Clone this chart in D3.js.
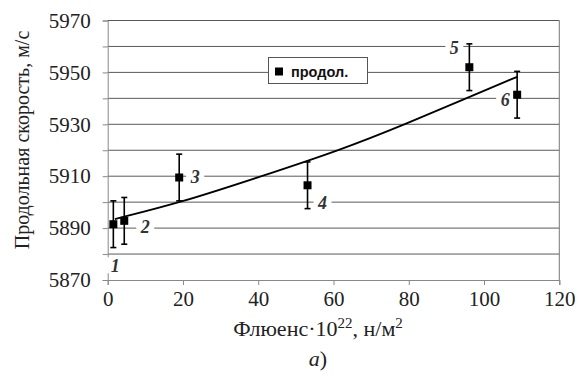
<!DOCTYPE html>
<html>
<head>
<meta charset="utf-8">
<script src="https://cdn.jsdelivr.net/npm/d3@7"></script>
<style>
  body { margin: 0; background: #fff; }
  svg { display: block; }
</style>
</head>
<body>
<svg id="chart"></svg>
<script>
// data
const fluence = [1.5, 4.4, 19, 53.1, 96.1, 108.8];
const speed = [5891.5, 5892.8, 5909.5, 5906.5, 5952, 5941.4];
const errors = [9, 9, 9, 9, 9, 9];
const pointLabels = ['1', '2', '3', '4', '5', '6'];
const trendX = [1.9, 20, 40, 61.7, 79.5, 96, 108.8];
const trendY = [5893.5, 5900.1, 5909.6, 5920, 5930.3, 5940.5, 5948.3];
const xTicks = [0, 20, 40, 60, 80, 100, 120];
const yTicks = [5870, 5890, 5910, 5930, 5950, 5970];
const legendName = 'продол.';

// pixel offsets of the number labels from their points
const labelOffsets = [[2, 41], [21, 6], [16, -1], [15, 17], [-15, -20], [-12, 5]];

const width = 579;
const height = 388;
const m = { left: 107.7, right: 559.3, top: 20.5, bottom: 280 };

const svg = d3.select('#chart')
  .attr('width', width)
  .attr('height', height);

const x = d3.scaleLinear().domain([0, 120]).range([m.left, m.right]);
const y = d3.scaleLinear().domain([5870, 5970]).range([m.bottom, m.top]);

const serif = '"Liberation Serif", "Times New Roman", serif';

// horizontal grid every 10
svg.append('g')
  .selectAll('line')
  .data(d3.range(5880, 5971, 10))
  .enter().append('line')
  .attr('x1', m.left).attr('x2', m.right)
  .attr('y1', d => y(d)).attr('y2', d => y(d))
  .attr('stroke', '#5a5a5a').attr('stroke-width', 1);

// right border
svg.append('line')
  .attr('x1', m.right).attr('x2', m.right)
  .attr('y1', m.top).attr('y2', m.bottom)
  .attr('stroke', '#777');

// axes
const yAxis = svg.append('g')
  .attr('transform', `translate(${m.left},0)`)
  .call(d3.axisLeft(y).tickValues(d3.range(5870, 5971, 10)).tickSize(5).tickFormat(d => yTicks.includes(d) ? d : ''));
yAxis.select('.domain').attr('stroke', '#888');
yAxis.selectAll('.tick line').attr('stroke', '#888');
yAxis.selectAll('.tick text')
  .attr('x', -17)
  .attr('font-family', serif).attr('font-size', 21).attr('fill', '#222');

const xAxis = svg.append('g')
  .attr('transform', `translate(0,${m.bottom})`)
  .call(d3.axisBottom(x).tickValues(xTicks).tickSize(5));
xAxis.select('.domain').attr('stroke', '#888');
xAxis.selectAll('.tick line').attr('stroke', '#888');
xAxis.selectAll('.tick text')
  .attr('y', 26).attr('dy', null)
  .attr('font-family', serif).attr('font-size', 21).attr('fill', '#222');

// white patches behind the number labels
const labelPos = fluence.map((f, i) => [x(f) + labelOffsets[i][0], y(speed[i]) + labelOffsets[i][1]]);
svg.append('g')
  .selectAll('rect')
  .data(labelPos)
  .enter().append('rect')
  .attr('x', d => d[0] - 9).attr('y', d => d[1] - 8)
  .attr('width', 18).attr('height', 16)
  .attr('fill', '#fff');

// trend line
svg.append('path')
  .datum(trendX.map((t, i) => [t, trendY[i]]))
  .attr('fill', 'none')
  .attr('stroke', '#000').attr('stroke-width', 1.8)
  .attr('d', d3.line().x(d => x(d[0])).y(d => y(d[1])).curve(d3.curveBasis));

// error bars
const bars = svg.append('g').attr('stroke', '#000').attr('stroke-width', 1.6);
fluence.forEach((f, i) => {
  const cx = x(f);
  const hi = y(speed[i] + errors[i]);
  const lo = y(speed[i] - errors[i]);
  bars.append('line').attr('x1', cx).attr('x2', cx).attr('y1', hi).attr('y2', lo);
  bars.append('line').attr('x1', cx - 3).attr('x2', cx + 3).attr('y1', hi).attr('y2', hi);
  bars.append('line').attr('x1', cx - 3).attr('x2', cx + 3).attr('y1', lo).attr('y2', lo);
});

// markers
svg.append('g')
  .selectAll('rect')
  .data(fluence)
  .enter().append('rect')
  .attr('x', (d, i) => x(d) - 4).attr('y', (d, i) => y(speed[i]) - 4)
  .attr('width', 8).attr('height', 8)
  .attr('fill', '#000');

// number labels
svg.append('g')
  .selectAll('text')
  .data(pointLabels)
  .enter().append('text')
  .attr('x', (d, i) => labelPos[i][0])
  .attr('y', (d, i) => labelPos[i][1])
  .attr('dy', '0.35em')
  .attr('text-anchor', 'middle')
  .attr('font-family', serif).attr('font-size', 18)
  .attr('font-style', 'italic').attr('font-weight', 'bold')
  .attr('fill', '#333')
  .text(d => d);

// legend
const lg = svg.append('g');
lg.append('rect')
  .attr('x', 268.5).attr('y', 57.5).attr('width', 99).attr('height', 26)
  .attr('fill', '#fff').attr('stroke', '#555');
lg.append('rect')
  .attr('x', 275).attr('y', 67.5).attr('width', 8).attr('height', 8)
  .attr('fill', '#000');
lg.append('text')
  .attr('x', 291).attr('y', 76.5)
  .attr('font-family', '"Liberation Sans", Arial, sans-serif')
  .attr('font-size', 14.5).attr('font-weight', 'bold')
  .attr('fill', '#111')
  .text(legendName);

// axis titles
svg.append('text')
  .attr('transform', `translate(22,140) rotate(-90)`)
  .attr('dy', '0.35em')
  .attr('text-anchor', 'middle')
  .attr('font-family', serif).attr('font-size', 20).attr('fill', '#222')
  .text('Продольная скорость, м/с');

const xt = svg.append('text')
  .attr('x', 318).attr('y', 336)
  .attr('text-anchor', 'middle')
  .attr('font-family', serif).attr('font-size', 22).attr('fill', '#222');
xt.append('tspan').text('Флюенс·10');
xt.append('tspan').attr('dy', -8).attr('font-size', 15).text('22');
xt.append('tspan').attr('dy', 8).text(', н/м');
xt.append('tspan').attr('dy', -8).attr('font-size', 15).text('2');

svg.append('text')
  .attr('x', 318).attr('y', 366)
  .attr('text-anchor', 'middle')
  .attr('font-family', serif).attr('font-size', 22).attr('fill', '#222')
  .html('<tspan font-style="italic">а</tspan>)');
</script>
</body>
</html>
